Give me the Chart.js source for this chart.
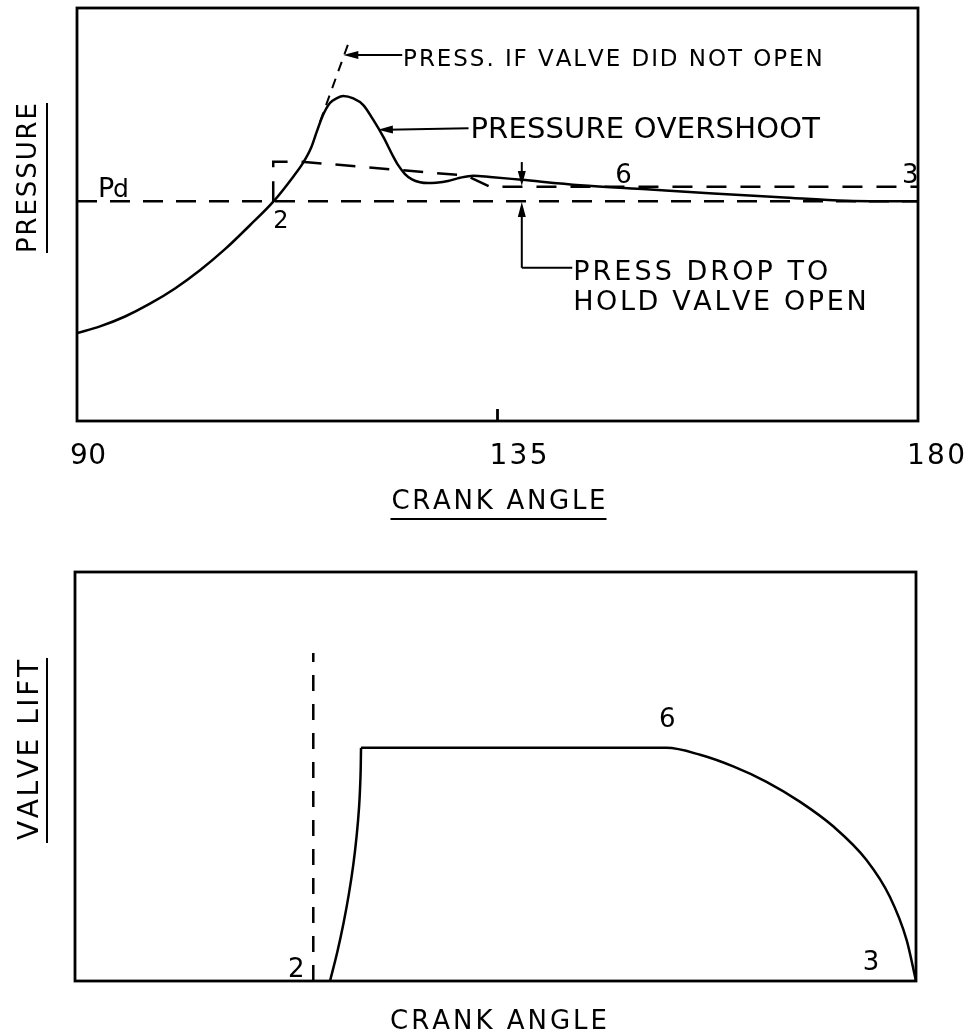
<!DOCTYPE html>
<html>
<head>
<meta charset="utf-8">
<script src="https://cdn.jsdelivr.net/npm/chart.js@4.4.1/dist/chart.umd.min.js"></script>
<style>
    html, body { margin: 0; padding: 0; background: #fff; }
    #wrap { position: relative; width: 972px; height: 1036px; }
    .box { position: absolute; left: 0; width: 972px; }
</style>
</head>
<body>
<div id="wrap">
    <div class="box" style="top:0;height:540px"><canvas id="pressureChart"></canvas></div>
    <div class="box" style="top:540px;height:496px"><canvas id="liftChart"></canvas></div>
</div>
<script>
// x axis
const xTicks = [90, 135, 180];
const xTickLabels = ['90', '135', '180'];

// top plot : cylinder pressure against crank angle
const pressureAngle = [90, 92.46, 95.14, 97.81, 100.49, 103.16, 105.84, 108.51, 111.08, 113.12,
    114.19, 115.04, 115.68, 116.33, 117.07, 117.82, 118.50, 119.57, 120.64, 121.71,
    122.78, 123.85, 124.35, 125.10, 125.85, 126.71, 127.56, 128.42, 129.70, 130.99,
    132.41, 134.20, 137.59, 143.83, 150.97, 158.10, 165.23, 172.37, 175.93, 180];
const pressureValue = [21.3, 22.9, 25.3, 28.4, 32.1, 36.5, 41.6, 47.4, 53.3, 59.1,
    62.5, 66.1, 70.2, 74.1, 77.0, 78.2, 78.7, 78.1, 76.5, 72.9,
    68.8, 64.0, 62.0, 59.8, 58.5, 57.8, 57.6, 57.7, 58.1, 58.9,
    59.4, 59.1, 58.4, 57.1, 56.1, 55.1, 54.2, 53.3, 53.2, 53.2];

// discharge pressure Pd
const pdAngle = [90, 180];
const pdValue = [53.2, 53.2];

// pressure needed to hold the valve open
const openAngle = [111.0, 111.0, 113.9, 131.7, 134.2, 180];
const openValue = [53.2, 62.8, 62.8, 59.4, 56.7, 56.7];

// pressure if the valve did not open
const closedAngle = [116.0, 119.1];
const closedValue = [72.4, 91.8];

// bottom plot : valve lift (opening, then open / closing)
const liftRiseAngle = [117.29, 118.07, 118.74, 119.31, 119.78, 120.14, 120.40, 120.55, 120.61];
const liftRiseValue = [0, 7.1, 14.2, 21.3, 28.4, 35.5, 42.5, 49.8, 57.0];
const liftFallAngle = [120.61, 153.3, 156.9, 160.5, 164.0, 167.6, 171.2, 174.7, 177.2, 179.0, 180];
const liftFallValue = [57.0, 57.0, 55.3, 52.4, 48.7, 43.8, 37.7, 29.6, 20.6, 10.0, 0];

const openingAngle = [115.5, 115.5];
const openingLift = [0, 80.2];


const pts = (xs, ys) => xs.map((v, i) => ({x: v, y: ys[i]}));
const FONT = '"DejaVu Sans", sans-serif';

// text drawn letter by letter so the wide CAD-like spacing can be matched
function spacedText(ctx, text, x, y, size, width, align) {
    ctx.font = size + 'px ' + FONT;
    const chars = [...text];
    const widths = chars.map(c => ctx.measureText(c).width);
    const natural = widths.reduce((a, b) => a + b, 0);
    const total = width || natural;
    const gap = chars.length > 1 ? (total - natural) / (chars.length - 1) : 0;
    let cx = align === 'center' ? x - total / 2 : x;
    ctx.textAlign = 'left';
    ctx.textBaseline = 'alphabetic';
    chars.forEach((c, i) => {
        ctx.fillText(c, cx, y);
        cx += widths[i] + gap;
    });
}

function arrow(ctx, x1, y1, x2, y2) {
    const a = Math.atan2(y2 - y1, x2 - x1);
    const len = 15, half = 4;
    ctx.beginPath();
    ctx.moveTo(x1, y1);
    ctx.lineTo(x2 - Math.cos(a) * len * 0.6, y2 - Math.sin(a) * len * 0.6);
    ctx.stroke();
    ctx.beginPath();
    ctx.moveTo(x2, y2);
    ctx.lineTo(x2 - len * Math.cos(a) + half * Math.sin(a), y2 - len * Math.sin(a) - half * Math.cos(a));
    ctx.lineTo(x2 - len * Math.cos(a) - half * Math.sin(a), y2 - len * Math.sin(a) + half * Math.cos(a));
    ctx.closePath();
    ctx.fill();
}

function lineSet(data, dash, width) {
    return {
        data: data,
        borderColor: '#000',
        borderWidth: width || 2.5,
        borderDash: dash || [],
        pointRadius: 0,
        fill: false,
        tension: 0
    };
}

function baseOptions(padding) {
    return {
        responsive: true,
        maintainAspectRatio: false,
        animation: false,
        layout: { padding: padding },
        plugins: { legend: { display: false }, tooltip: { enabled: false } },
        scales: {
            x: { type: 'linear', min: 90, max: 180, display: false },
            y: { type: 'linear', min: 0, max: 100, display: false }
        }
    };
}

const pressureNotes = {
    id: 'pressureNotes',
    afterDraw(chart) {
        const {ctx, chartArea: a, scales: {x, y}} = chart;
        const X = v => x.getPixelForValue(v), Y = v => y.getPixelForValue(v);
        ctx.save();
        ctx.strokeStyle = '#000';
        ctx.fillStyle = '#000';
        ctx.setLineDash([]);
        ctx.lineWidth = 2.8;
        ctx.strokeRect(a.left, a.top, a.right - a.left, a.bottom - a.top);
        ctx.beginPath();
        ctx.moveTo(X(135), a.bottom);
        ctx.lineTo(X(135), a.bottom - 12);
        ctx.stroke();

        // tick labels, a bit right of the ticks like the original
        const shift = [11, 21, 18];
        const tw = [36, 58, 58];
        xTicks.forEach((t, i) => spacedText(ctx, xTickLabels[i], X(t) + shift[i], a.bottom + 43, 28, tw[i], 'center'));

        // axis titles
        spacedText(ctx, 'CRANK ANGLE', X(135) + 1, a.bottom + 88, 26, 214, 'center');
        ctx.lineWidth = 2;
        ctx.beginPath();
        ctx.moveTo(X(135) + 1 - 108, a.bottom + 98);
        ctx.lineTo(X(135) + 1 + 108, a.bottom + 98);
        ctx.stroke();

        ctx.save();
        ctx.translate(36, a.top + 170);
        ctx.rotate(-Math.PI / 2);
        spacedText(ctx, 'PRESSURE', 0, 0, 26, 150, 'center');
        ctx.beginPath();
        ctx.moveTo(-75, 11);
        ctx.lineTo(75, 11);
        ctx.stroke();
        ctx.restore();

        // annotations
        ctx.lineWidth = 2;
        spacedText(ctx, 'PRESS. IF VALVE DID NOT OPEN', X(124.9), Y(86.0), 23, X(169.8) - X(124.9), 'left');
        arrow(ctx, X(124.8), Y(88.6), X(118.5), Y(88.6));

        spacedText(ctx, 'PRESSURE OVERSHOOT', X(132.1), Y(68.5), 29, X(169.5) - X(132.1), 'left');
        arrow(ctx, X(131.9), Y(70.9), X(122.2), Y(70.5));

        spacedText(ctx, 'PRESS DROP TO', X(143.1), Y(34.1), 27, X(170.4) - X(143.1), 'left');
        spacedText(ctx, 'HOLD VALVE OPEN', X(143.1), Y(26.9), 27, X(174.5) - X(143.1), 'left');
        arrow(ctx, X(137.6), Y(62.7), X(137.6), Y(56.9));
        ctx.beginPath();
        ctx.moveTo(X(143.0), Y(37.1));
        ctx.lineTo(X(137.6), Y(37.1));
        ctx.stroke();
        arrow(ctx, X(137.6), Y(37.1), X(137.6), Y(53.0));

        spacedText(ctx, 'P', X(92.25), Y(54.2), 27, null, 'left');
        spacedText(ctx, 'd', X(93.85), Y(54.2), 25, null, 'left');
        spacedText(ctx, '2', X(111.0), Y(46.7), 24, null, 'left');
        spacedText(ctx, '6', X(147.6), Y(57.6), 26, null, 'left');
        spacedText(ctx, '3', X(178.3), Y(57.6), 26, null, 'left');
        ctx.restore();
    }
};

const liftNotes = {
    id: 'liftNotes',
    afterDraw(chart) {
        const {ctx, chartArea: a, scales: {x, y}} = chart;
        const X = v => x.getPixelForValue(v), Y = v => y.getPixelForValue(v);
        ctx.save();
        ctx.strokeStyle = '#000';
        ctx.fillStyle = '#000';
        ctx.setLineDash([]);
        ctx.lineWidth = 2.8;
        ctx.strokeRect(a.left, a.top, a.right - a.left, a.bottom - a.top);

        spacedText(ctx, '2', X(112.8), Y(1.0), 26, null, 'left');
        spacedText(ctx, '6', X(152.5), Y(62.1), 26, null, 'left');
        spacedText(ctx, '3', X(174.3), Y(2.7), 26, null, 'left');

        spacedText(ctx, 'CRANK ANGLE', X(135) + 3, a.bottom + 48, 26, 217, 'center');

        ctx.lineWidth = 2;
        ctx.save();
        ctx.translate(38, a.top + 178);
        ctx.rotate(-Math.PI / 2);
        spacedText(ctx, 'VALVE LIFT', 0, 0, 28, 180, 'center');
        ctx.beginPath();
        ctx.moveTo(-93, 9);
        ctx.lineTo(92, 9);
        ctx.stroke();
        ctx.restore();
        ctx.restore();
    }
};

const pressureCurve = lineSet(pts(pressureAngle, pressureValue));
pressureCurve.cubicInterpolationMode = 'monotone';

new Chart(document.getElementById('pressureChart').getContext('2d'), {
    type: 'line',
    data: {
        datasets: [
            pressureCurve,
            lineSet(pts(pdAngle, pdValue), [20, 13]),
            lineSet(pts(openAngle, openValue), [20, 14]),
            lineSet(pts(closedAngle, closedValue), [10, 8], 2)
        ]
    },
    options: baseOptions({left: 77, right: 54, top: 8, bottom: 119}),
    plugins: [pressureNotes]
});

const liftRise = lineSet(pts(liftRiseAngle, liftRiseValue));
liftRise.tension = 0.4;
const liftFall = lineSet(pts(liftFallAngle, liftFallValue));
liftFall.cubicInterpolationMode = 'monotone';

new Chart(document.getElementById('liftChart').getContext('2d'), {
    type: 'line',
    data: {
        datasets: [
            liftRise,
            liftFall,
            lineSet(pts(openingAngle, openingLift), [16, 13])
        ]
    },
    options: baseOptions({left: 75, right: 56, top: 32, bottom: 55}),
    plugins: [liftNotes]
});
</script>
</body>
</html>
